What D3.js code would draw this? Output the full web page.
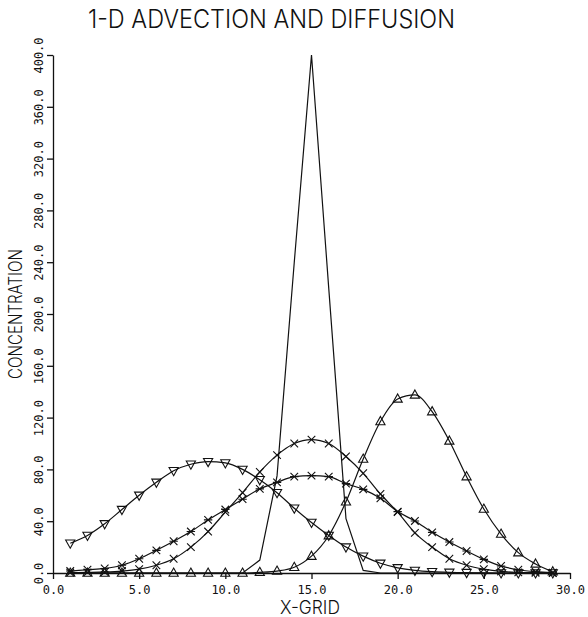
<!DOCTYPE html>
<html>
<head>
<meta charset="utf-8">
<script src="https://cdn.jsdelivr.net/npm/d3@7"></script>
<style>
  html, body { margin: 0; padding: 0; background: #fff; }
  svg { display: block; }
</style>
</head>
<body>
<svg id="chart" width="588" height="617"></svg>
<script>
// ---------------- data ----------------
const title = "1-D ADVECTION AND DIFFUSION";
const xLabel = "X-GRID";
const yLabel = "CONCENTRATION";
const xTicks = [0, 5, 10, 15, 20, 25, 30];
const yTicks = [0, 40, 80, 120, 160, 200, 240, 280, 320, 360, 400];

const grid = [1,2,3,4,5,6,7,8,9,10,11,12,13,14,15,16,17,18,19,20,21,22,23,24,25,26,27,28,29];

// initial spike (line only)
const spike = [0,0,0,0,0,0,0,0,0,0,0,10,75,240,400,220,42,2,0,0,0,0,0,0,0,0,0,0,0];
// pure diffusion (plain x markers)
const diffusionA = [0.3,0.5,0.8,1.5,3,6,11,20,32,47,62,78,91,100,103,100,90,77,61,47,31,20,11,6,3,1.2,0.5,0.2,0];
// stronger diffusion (starred markers)
const diffusionB = [1.5,2.5,3.5,6,11,17.5,24.5,32,41,49,57,65,70,74.4,75.2,74.4,69,64.6,57.7,47.4,40.2,31.4,23.9,17,10.5,5.4,2.5,1,0.2];
// advected to the right (up triangles)
const advectRight = [0,0,0,0,0,0,0,0,0,0,0,0.5,1.5,4.4,13,28.8,55,88,117,134.4,137.5,124.6,102,74.4,49.4,30.1,15.7,7,1];
// advected to the left (down triangles)
const advectLeft = [23,29,38,49,60,70,79,84,86,85,80,72,62,50,39,29,20,13,7.5,4,2,1,0.5,0.3,0.1,0,0,0,0];

// ---------------- drawing ----------------
const svg = d3.select("#chart");
const X0 = 53, X1 = 570, Y0 = 573, Y1 = 55;
const x = d3.scaleLinear().domain([0, 30]).range([X0, X1]);
const y = d3.scaleLinear().domain([0, 400]).range([Y0, Y1]);

const ink = "#111";
const plotterFont = "Inter, 'DejaVu Sans', sans-serif";
const monoFont = "'DejaVu Sans Mono', 'Liberation Mono', monospace";

// title
svg.append("text")
  .attr("x", 271.5).attr("y", 28)
  .attr("text-anchor", "middle")
  .style("font-family", plotterFont)
  .style("font-weight", 300)
  .style("font-size", "25px")
  .style("fill", ink)
  .attr("textLength", 367).attr("lengthAdjust", "spacingAndGlyphs")
  .text(title);

// x axis
const gx = svg.append("g").attr("transform", `translate(0,${Y0})`)
  .call(d3.axisBottom(x).tickValues(xTicks).tickFormat(d3.format(".1f"))
    .tickSize(6).tickSizeOuter(0).tickPadding(6));
gx.selectAll("text").style("font-size", "12px").style("font-family", monoFont).style("fill", ink);
gx.selectAll("line, path").attr("stroke", ink).attr("stroke-width", 1.3);

// y axis
const gy = svg.append("g").attr("transform", `translate(${X0},0)`)
  .call(d3.axisLeft(y).tickValues(yTicks).tickFormat(d3.format(".1f"))
    .tickSize(6).tickSizeOuter(0));
gy.selectAll("text")
  .attr("transform", "rotate(-90)")
  .attr("x", 0).attr("y", -10).attr("dy", 0)
  .attr("text-anchor", "middle")
  .style("font-size", "12px").style("font-family", monoFont).style("fill", ink);
gy.selectAll("line, path").attr("stroke", ink).attr("stroke-width", 1.3);

// axis titles
svg.append("text")
  .attr("x", 310).attr("y", 614)
  .attr("text-anchor", "middle")
  .style("font-size", "18px").style("font-family", plotterFont).style("font-weight", 300).style("fill", ink)
  .attr("textLength", 60).attr("lengthAdjust", "spacingAndGlyphs")
  .text(xLabel);
svg.append("text")
  .attr("transform", `translate(22,${(Y0 + Y1) / 2}) rotate(-90)`)
  .attr("text-anchor", "middle")
  .style("font-size", "18px").style("font-family", plotterFont).style("font-weight", 300).style("fill", ink)
  .attr("textLength", 130).attr("lengthAdjust", "spacingAndGlyphs")
  .text(yLabel);

// lines
const smooth = d3.line().x((d, i) => x(grid[i])).y(d => y(d)).curve(d3.curveMonotoneX);
const straight = d3.line().x((d, i) => x(grid[i])).y(d => y(d)).curve(d3.curveLinear);

const plot = svg.append("g").attr("fill", "none").attr("stroke", ink).attr("stroke-width", 1.2);
plot.append("path").attr("d", straight(spike));
[diffusionA, diffusionB, advectRight, advectLeft].forEach(s => {
  plot.append("path").attr("d", smooth(s));
});

// markers
const markerPaths = {
  up: "M0,-5L4.6,3.2L-4.6,3.2Z",
  down: "M0,5L4.6,-3.2L-4.6,-3.2Z",
  cross: "M-3.8,-3.8L3.8,3.8M-3.8,3.8L3.8,-3.8",
  star: "M-3.8,-3.8L3.8,3.8M-3.8,3.8L3.8,-3.8M-4.2,0L4.2,0"
};
function drawMarkers(values, kind) {
  plot.append("g").selectAll("path").data(values).join("path")
    .attr("transform", (d, i) => `translate(${x(grid[i])},${y(d)})`)
    .attr("d", markerPaths[kind])
    .attr("fill", "none")
    .attr("stroke", ink).attr("stroke-width", 1.1);
}
drawMarkers(diffusionA, "cross");
drawMarkers(diffusionB, "star");
drawMarkers(advectRight, "up");
drawMarkers(advectLeft, "down");
</script>
</body>
</html>
